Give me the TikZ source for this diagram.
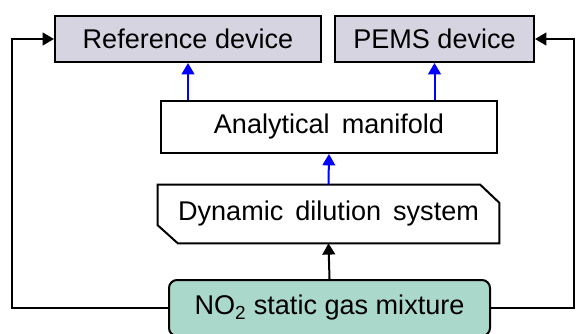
\documentclass[tikz,border=0pt]{standalone}
\usepackage{fontspec}
\setmainfont{Liberation Sans}
\usetikzlibrary{arrows.meta,calc}

\definecolor{devfill}{RGB}{213,212,224}
\definecolor{gasfill}{RGB}{170,216,203}
\definecolor{flowblue}{RGB}{0,0,255}

\begin{document}
\begin{tikzpicture}[x=0.75pt,y=-0.75pt,
  box/.style={rectangle,draw=black,line width=1.5pt,inner sep=0pt,
    font=\fontsize{20.3}{24}\selectfont},
  device/.style={box,fill=devfill,minimum height=34.5pt},
  flow/.style={line width=1.5pt,-{Triangle[length=8.5pt,width=9.5pt]}},
  feed/.style={flow,black}]
\useasboundingbox (0,0) rectangle (577,334);

\node[device,minimum width=199.5pt] (reference) at (188,39) {Reference device};
\node[device,minimum width=149.25pt] (pems) at (434.5,39) {PEMS device};

\node[box,minimum width=252pt,minimum height=39pt] (manifold) at (329,127) {Analytical\, manifold};

% dilution box: corners cut at top right and bottom left
\node[inner sep=0pt,minimum width=255.75pt,minimum height=43.5pt] (dilution) at (328.5,214) {};
\draw[line width=1.5pt,fill=white]
  (dilution.north west) -- ($(dilution.north east)+(-19,0)$)
  -- ($(dilution.north east)+(0,18)$) -- (dilution.south east)
  -- ($(dilution.south west)+(20,0)$) -- ($(dilution.south west)+(0,-18)$) -- cycle;
\node[inner sep=0pt,font=\fontsize{20.3}{24}\selectfont] at (dilution) {Dynamic\, dilution\, system};

\node[box,fill=gasfill,rounded corners=6pt,minimum width=240.75pt,minimum height=42pt] (gas) at (329.5,308)
  {NO\textsubscript{2} static gas mixture};

% feed lines round the sides
\coordinate (lft) at (12,0);
\coordinate (rgt) at (574,0);
\draw[feed] (gas.west) -- (gas.west -| lft) |- (reference.west);
\draw[feed] (gas.east) -- (gas.east -| rgt) |- (pems.east);

\draw[feed] (gas.north) -- (dilution.south);
\draw[flow,flowblue] (dilution.north) -- (manifold.south);
\draw[flow,flowblue] (reference.south |- manifold.north) -- (reference.south);
\draw[flow,flowblue] (pems.south |- manifold.north) -- (pems.south);
\end{tikzpicture}
\end{document}
